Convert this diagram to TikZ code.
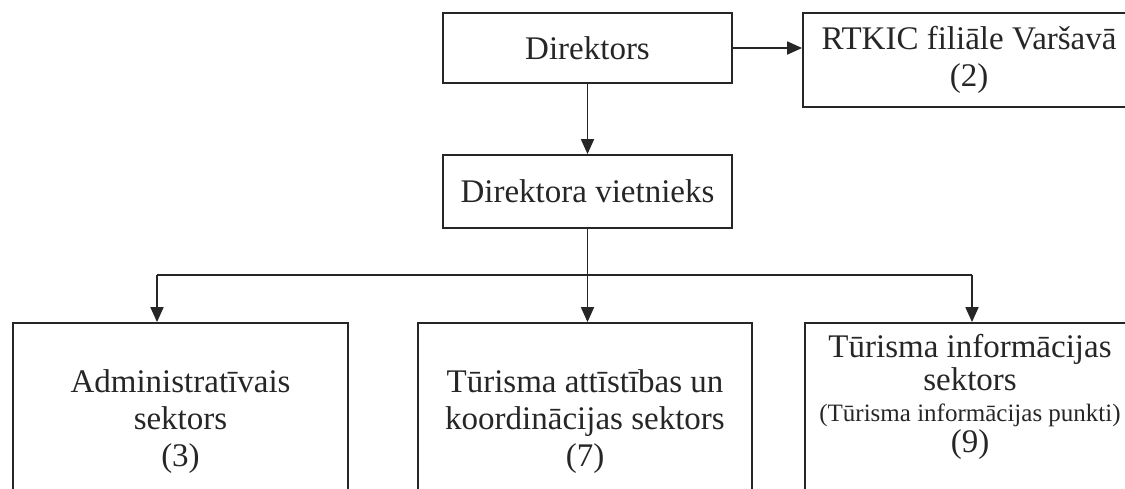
\documentclass[tikz,border=0pt]{standalone}
\usepackage{fontspec}
\setmainfont{Liberation Serif}
\usetikzlibrary{arrows.meta}

\begin{document}
\begin{tikzpicture}[x=0.5pt,y=0.5pt,->,>={Triangle[length=7.5pt,width=6.5pt]},line width=0.9pt,color=black!85,
    box/.style={draw,-,rectangle,inner sep=0pt,align=center,font=\fontsize{16.5}{18.5}\selectfont},
    txt/.style={align=center,inner sep=0pt,font=\fontsize{16.5}{18.5}\selectfont}]

\useasboundingbox (0,0) rectangle (1125,-488);

\node [box,minimum width=144.5pt,minimum height=35pt] (dir) at (587.5,-48) {Direktors};
\node [box,minimum width=166pt,minimum height=47pt] (rtk) at (969,-60) {RTKIC filiāle Varšavā\\(2)};
\node [box,minimum width=144.5pt,minimum height=36.5pt] (vie) at (587.5,-191.5) {Direktora vietnieks};

\node [box,minimum width=167.5pt,minimum height=98.5pt] (adm) at (180.5,-421.5) {Administratīvais\\sektors\\(3)};
\node [box,minimum width=167pt,minimum height=98.5pt] (tur) at (585,-421.5) {Tūrisma attīstības un\\koordinācijas sektors\\(7)};
\node [box,minimum width=165pt,minimum height=98.5pt] (inf) at (970,-421.5) {};
\node [txt] (inftxt) at (970,-397) {Tūrisma informācijas\\[-2pt]sektors\\[-3pt]{\fontsize{12.5}{13}\selectfont(Tūrisma informācijas punkti)}\\[-3pt](9)};

\coordinate (bar) at (587.5,-275);
\coordinate (barl) at (157,-275);
\coordinate (barr) at (972,-275);

\draw (dir.east) -- (dir.east -| rtk.west);
\draw (dir) -- (vie);
\path [draw,-] (vie) -- (bar);
\path [draw,-] (barl) -- (barr);

\draw (barl) -- (barl |- adm.north);
\draw (bar) -- (bar |- tur.north);
\draw (barr) -- (barr |- inf.north);

\end{tikzpicture}
\end{document}
